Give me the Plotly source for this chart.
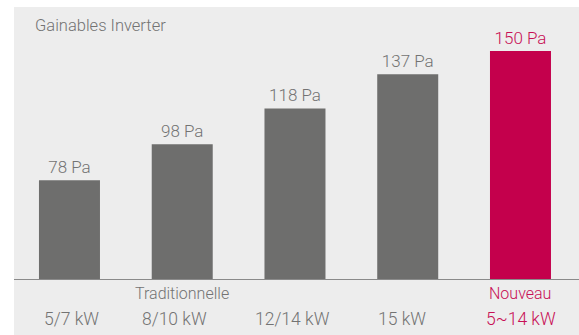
import plotly.graph_objects as go

# Data
categories = ["5/7 kW", "8/10 kW", "12/14 kW", "15 kW", "5~14 kW"]
pressures = [78, 98, 118, 137, 150]
value_labels = [f"{v} Pa" for v in pressures]
group_labels = ["", "Traditionnelle", "", "", "Nouveau"]
title_text = "Gainables Inverter"

# Styling
GREY_BAR = "#6e6e6d"
RED = "#c4004c"
RED_TEXT = "#c80f55"
GREY_TEXT = "#737373"
PANEL = "#ededed"
FONT = "Roboto"
WEIGHT = 300

W, H = 579, 335
M_L, M_R, M_T, M_B = 14, 0, 15, 56
plot_h = H - M_T - M_B

bar_colors = [GREY_BAR] * 4 + [RED]
text_colors = [GREY_TEXT] * 4 + [RED_TEXT]
# horizontal nudges (px) of the category labels relative to bar centres
cat_shift = [2.5, -8, -2, -5.5, 1]
group_shift = [0, 0, 0, 0, -0.5]

x = list(range(len(categories)))

fig = go.Figure()
fig.add_trace(go.Bar(
    x=x,
    y=pressures,
    width=0.541,
    marker=dict(color=bar_colors, line=dict(width=0)),
    text=value_labels,
    textposition="outside",
    textfont=dict(family=FONT, size=17, color=text_colors, weight=WEIGHT),
    cliponaxis=False,
    hoverinfo="skip",
))

# panel background extending below the axis
fig.add_shape(
    type="rect", xref="paper", yref="paper",
    x0=0, x1=1,
    y0=-(H - M_T - plot_h) / plot_h - 0.01, y1=(plot_h + M_T - 7) / plot_h,
    fillcolor=PANEL, line=dict(width=0), layer="below",
)

annotations = [dict(
    text=title_text, xref="paper", yref="paper", x=(33 - M_L) / (W - M_L - M_R), y=1,
    yshift=-10.5, xanchor="left", yanchor="middle", showarrow=False,
    font=dict(family=FONT, size=16.5, color=GREY_TEXT, weight=WEIGHT),
)]
for i, cat in enumerate(categories):
    annotations.append(dict(
        text=cat, xref="x", yref="paper", x=i, y=0, xshift=cat_shift[i],
        yshift=-(318.5 - (H - M_B)), xanchor="center", yanchor="middle",
        showarrow=False,
        font=dict(family=FONT, size=17.5, color=text_colors[i], weight=WEIGHT),
    ))
    if group_labels[i]:
        annotations.append(dict(
            text=group_labels[i], xref="x", yref="paper", x=i, y=0,
            xshift=group_shift[i], yshift=-(293 - (H - M_B)),
            xanchor="center", yanchor="middle", showarrow=False,
            font=dict(family=FONT, size=16, color=text_colors[i], weight=WEIGHT),
        ))

fig.update_layout(
    width=W, height=H,
    margin=dict(l=M_L, r=M_R, t=M_T, b=M_B),
    paper_bgcolor="white",
    plot_bgcolor=PANEL,
    showlegend=False,
    annotations=annotations,
    xaxis=dict(
        range=[-0.492, 4.519], showticklabels=False, ticks="", showgrid=False,
        zeroline=False, showline=True, linecolor="#8a8a8a", linewidth=1,
        fixedrange=True,
    ),
    yaxis=dict(
        range=[23, 170], visible=False, showgrid=False, zeroline=False,
        fixedrange=True,
    ),
)

fig.write_html("out.html", config={"displayModeBar": False})
